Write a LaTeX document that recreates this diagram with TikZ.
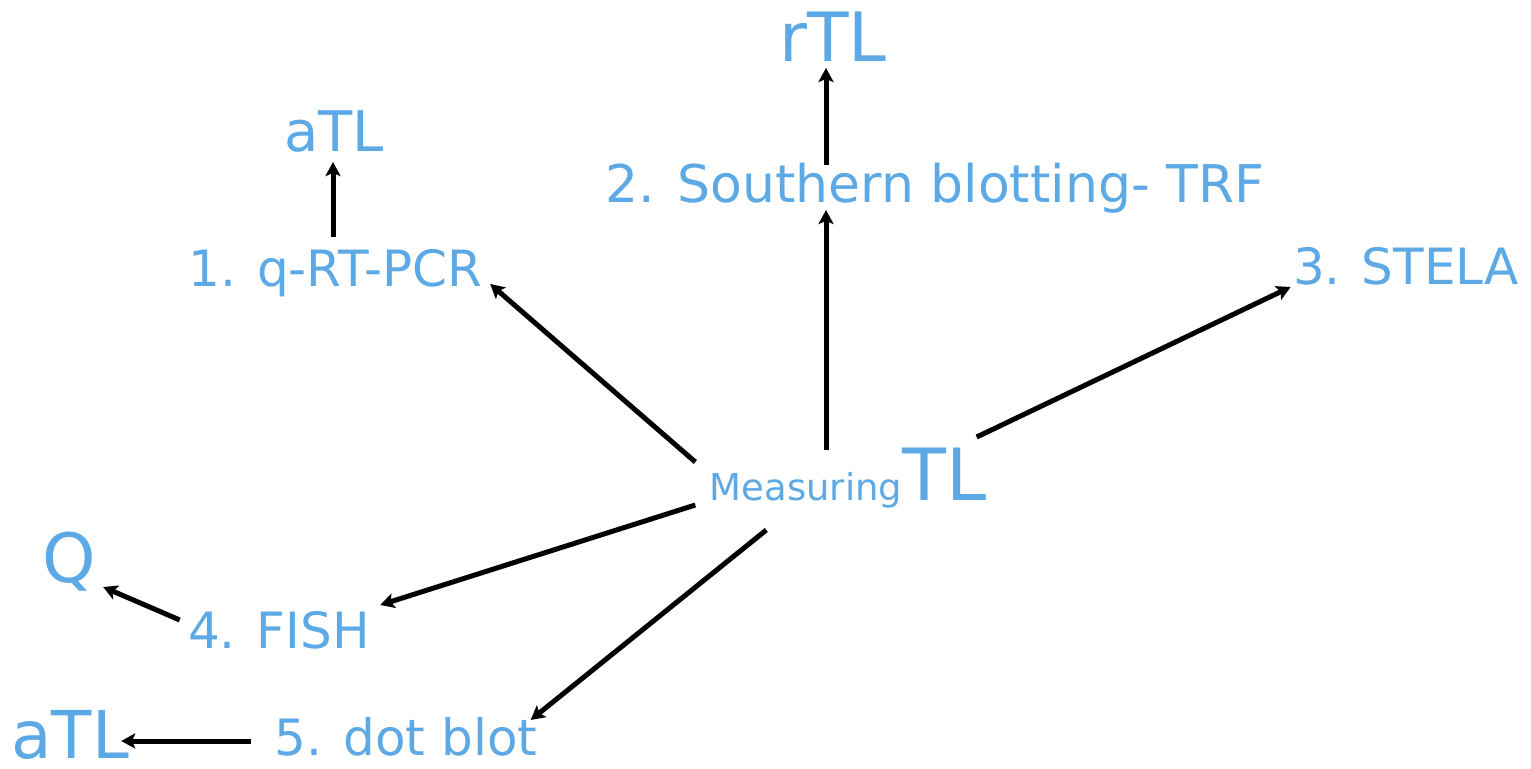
\documentclass[tikz,border=0pt]{standalone}
\usepackage{fontspec}
\setmainfont{DejaVu Sans}
\usetikzlibrary{arrows.meta}
\definecolor{tlblue}{RGB}{93,169,229}

\begin{document}
\begin{tikzpicture}[x=0.5pt, y=-0.5pt,
    every node/.style={text=tlblue, inner sep=0pt, anchor=base},
    link/.style={line width=2.5pt, -{Stealth[length=7pt,width=7.5pt,inset=1.5pt]}}]
    \useasboundingbox (0,0) rectangle (1531,769);
    \node (meas) at (848,501) {{\fontsize{18.5}{20}\selectfont Measuring}{\fontsize{36}{40}\selectfont TL}};
    \node[font=\fontsize{34}{38}\selectfont] (rtl) at (833,62) {rTL};
    \node[font=\fontsize{28}{32}\selectfont] (atla) at (334,152) {aTL};
    \node[font=\fontsize{26}{30}\selectfont] (south) at (935,203) {2. Southern blotting- TRF};
    \node[font=\fontsize{25}{30}\selectfont] (pcr) at (335,287) {1. q-RT-PCR};
    \node[font=\fontsize{25}{30}\selectfont] (stela) at (1406,285) {3. STELA};
    \node[font=\fontsize{34}{38}\selectfont] (q) at (69,582) {Q};
    \node[font=\fontsize{25}{30}\selectfont] (fish) at (279,648) {4. FISH};
    \node[font=\fontsize{33}{38}\selectfont] (atlb) at (70,758) {aTL};
    \node[font=\fontsize{25}{30}\selectfont] (dot) at (406,755) {5. dot blot};
    % methods
    \draw[link] ([shift={(-14,-39)}]meas.base west) -- ([shift={(8,-3)}]pcr.base east);
    \draw[link] ([shift={(-22,-51)}]meas.base) -- ([shift={(-109,7)}]south.base);
    \draw[link] ([shift={(-10,-64)}]meas.base east) -- ([shift={(-2,2)}]stela.base west);
    \draw[link] ([shift={(-14,4)}]meas.base west) -- ([shift={(10,-43)}]fish.base east);
    \draw[link] ([shift={(57,29)}]meas.base west) -- ([shift={(-7,-35)}]dot.base east);
    % results
    \draw[link] ([shift={(-2,-50)}]pcr.base) -- ([shift={(-1,10)}]atla.base);
    \draw[link] ([shift={(-109,-38)}]south.base) -- ([shift={(-7,6)}]rtl.base);
    \draw[link] ([shift={(-8,-28)}]fish.base west) -- ([shift={(7,5)}]q.base east);
    \draw[link] ([shift={(-23,-14)}]dot.base west) -- ([shift={(-8,-17)}]atlb.base east);
\end{tikzpicture}
\end{document}
